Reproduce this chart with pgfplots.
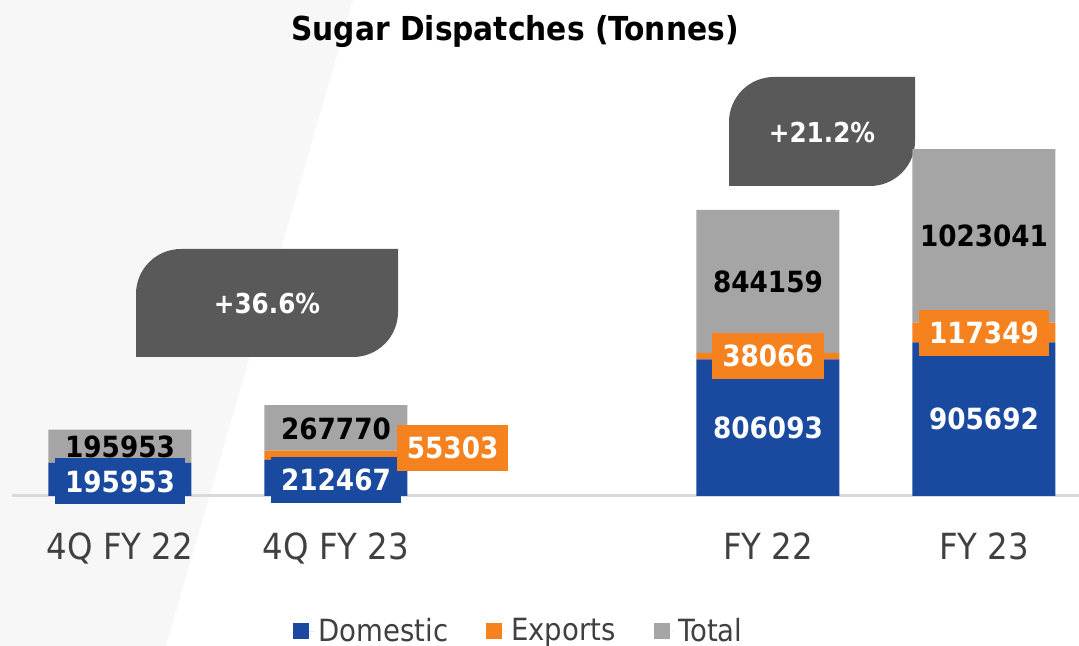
\documentclass[border=0pt]{standalone}
\usepackage{pgfplots}
\pgfplotsset{compat=1.18}
\usepackage{fontspec}
\setmainfont{DejaVu Sans Condensed}
\definecolor{cblue}{HTML}{1A4AA0}
\definecolor{corange}{HTML}{F5821F}
\definecolor{cgray}{HTML}{A5A5A5}
\definecolor{cdark}{HTML}{595959}
\definecolor{ctext}{HTML}{404040}
\definecolor{cbg}{HTML}{F7F7F7}
\definecolor{caxis}{HTML}{D9D9D9}
\begin{document}
\begin{tikzpicture}
\begin{scope}[x=0.5pt,y=0.5pt]
\fill[white] (0,0) rectangle (1079,646);
\fill[cbg] (0,0) -- (0,646) -- (353,646) -- (166,0) -- cycle;
\fill[cdark] (136,289) -- (136,352) arc[start angle=180,end angle=90,radius=22.5pt] -- (398,397) -- (398,334) arc[start angle=0,end angle=-90,radius=22.5pt] -- cycle;
\fill[cdark] (729,460) -- (729,524) arc[start angle=180,end angle=90,radius=22.5pt] -- (915,569) -- (915,505) arc[start angle=0,end angle=-90,radius=22.5pt] -- cycle;
\node[text=white,font=\bfseries\fontsize{13.7}{16}\selectfont] at (267,342) {+36.6\%};
\node[text=white,font=\bfseries\fontsize{13.7}{16}\selectfont] at (822,513) {+21.2\%};
\node[font=\bfseries\fontsize{16.5}{19}\selectfont] at (515,614) {Sugar Dispatches (Tonnes)};
\end{scope}
\begin{axis}[
  at={(6pt,75pt)}, anchor=south west, scale only axis,
  width=533.5pt, height=218pt,
  xmin=-0.5, xmax=4.44, ymin=0, ymax=2572400,
  ybar stacked, bar width=71.5pt,
  axis x line*=bottom, axis y line=none,
  axis line style={draw=caxis, line width=1.5pt},
  xtick={0,1,3,4}, xticklabels={4Q FY 22,4Q FY 23,FY 22,FY 23},
  major tick length=0pt, ytick=\empty,
  xticklabel style={anchor=base, yshift=-31.5pt, text=ctext, font=\fontsize{18}{21}\selectfont},
  clip=false,
  legend columns=3,
  legend style={draw=none, fill=none, at={(0.476,-0.31)}, anchor=center,
    font=\fontsize{15.3}{18}\selectfont, text=ctext,
    /tikz/every even column/.append style={column sep=17pt}},
]
\addplot[fill=cblue, draw=none, legend image code/.code={\fill[cblue] (0pt,-4pt) rectangle (8pt,4pt); \path (0pt,0pt) -- (10.5pt,0pt);}] coordinates {(0,195953) (1,212467) (3,806093) (4,905692)};
\addlegendentry{Domestic}
\addplot[fill=corange, draw=none, legend image code/.code={\fill[corange] (0pt,-4pt) rectangle (8pt,4pt); \path (0pt,0pt) -- (10.5pt,0pt);}] coordinates {(0,0) (1,55303) (3,38066) (4,117349)};
\addlegendentry{Exports}
\addplot[fill=cgray, draw=none, legend image code/.code={\fill[cgray] (0pt,-4pt) rectangle (8pt,4pt); \path (0pt,0pt) -- (10.5pt,0pt);}] coordinates {(0,195953) (1,267770) (3,844159) (4,1023041)};
\addlegendentry{Total}
\end{axis}
\begin{axis}[
  at={(6pt,75pt)}, anchor=south west, scale only axis,
  width=533.5pt, height=218pt,
  xmin=-0.5, xmax=4.44, ymin=0, ymax=2572400,
  hide axis, clip=false,
  point meta=explicit symbolic,
  nodes near coords,
]
\addplot[draw=none, mark=none, nodes near coords style={anchor=center, text=black, font=\bfseries\fontsize{14.6}{17}\selectfont}]
  coordinates {(0,287000)[195953] (1,395000)[267770] (3,1266238)[844159] (4,1534561)[1023041]};
\addplot[draw=none, mark=none, nodes near coords style={anchor=center, fill=cblue, text=white, minimum height=23pt, inner xsep=5pt, font=\bfseries\fontsize{14.6}{17}\selectfont}]
  coordinates {(0,86000)[195953] (1,94000)[212467] (3,403046)[806093] (4,452846)[905692]};
\addplot[draw=none, mark=none, nodes near coords style={anchor=center, fill=corange, text=white, minimum height=23pt, inner xsep=5pt, font=\bfseries\fontsize{14.6}{17}\selectfont}]
  coordinates {(1.54,283000)[55303] (3,825126)[38066] (4,964366)[117349]};
\end{axis}
\pgfresetboundingbox
\path[use as bounding box] (0,0) rectangle (539.5pt,323pt);
\end{tikzpicture}
\end{document}
